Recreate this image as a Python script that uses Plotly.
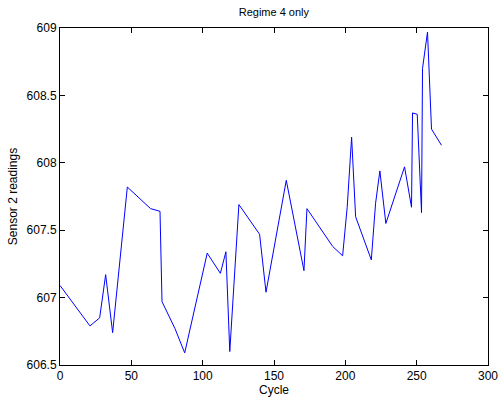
import plotly.graph_objects as go

# Sensor 2 readings over cycles (regime 4 operating condition)
cycle = [0, 21, 27.8, 32, 36.9, 47.2, 63.5, 70.1, 71.5, 80.6, 87.4,
         103.2, 112.4, 116.3, 119, 125.4, 139.9, 144.4, 158.6, 171, 173.1,
         191.1, 198.1, 201.3, 204.4, 207.2, 218.2, 221.2, 224.2, 228.4,
         241.5, 246.4, 247.1, 250.4, 253.4, 254.1, 257.6, 260.4, 267.4]
sensor2 = [607.09, 606.79, 606.85, 607.17, 606.74, 607.82, 607.66, 607.64, 606.97, 606.77, 606.59,
           607.33, 607.18, 607.34, 606.60, 607.69, 607.47, 607.04, 607.87, 607.20, 607.66,
           607.38, 607.31, 607.67, 608.19, 607.60, 607.28, 607.70, 607.94, 607.55,
           607.97, 607.67, 608.37, 608.36, 607.63, 608.70, 608.97, 608.25, 608.13]

x_ticks = [0, 50, 100, 150, 200, 250, 300]
y_ticks = [606.5, 607, 607.5, 608, 608.5, 609]
y_tick_text = ["606.5", "607", "607.5", "608", "608.5", "609"]

font_family = "Liberation Sans, Arial, sans-serif"

fig = go.Figure(go.Scatter(
    x=cycle, y=sensor2, mode="lines",
    line=dict(color="#0000ff", width=1),
))

axis_common = dict(
    showgrid=False, zeroline=False, automargin=False,
    ticklabeloverflow="allow",
    showline=True, linecolor="black", linewidth=1, mirror="ticks",
    ticks="inside", ticklen=5, tickcolor="black", tickwidth=1,
    tickfont=dict(family=font_family, size=12, color="black"),
)

fig.update_layout(
    width=498, height=401,
    margin=dict(l=60, r=10, t=28, b=36),
    paper_bgcolor="white", plot_bgcolor="white",
    showlegend=False,
    title=dict(text="Regime 4 only", x=0.55, xanchor="center", y=0.97, yanchor="middle",
               automargin=False,
               font=dict(family=font_family, size=11, color="black")),
    xaxis=dict(range=[0, 300], tickvals=x_ticks,
               title=dict(text="Cycle", standoff=2,
                          font=dict(family=font_family, size=12, color="black")),
               **axis_common),
    yaxis=dict(range=[606.5, 609], tickvals=y_ticks, ticktext=y_tick_text,
               title=dict(text="Sensor 2 readings", standoff=6,
                          font=dict(family=font_family, size=12, color="black")),
               **axis_common),
)

fig.write_html("out.html")
